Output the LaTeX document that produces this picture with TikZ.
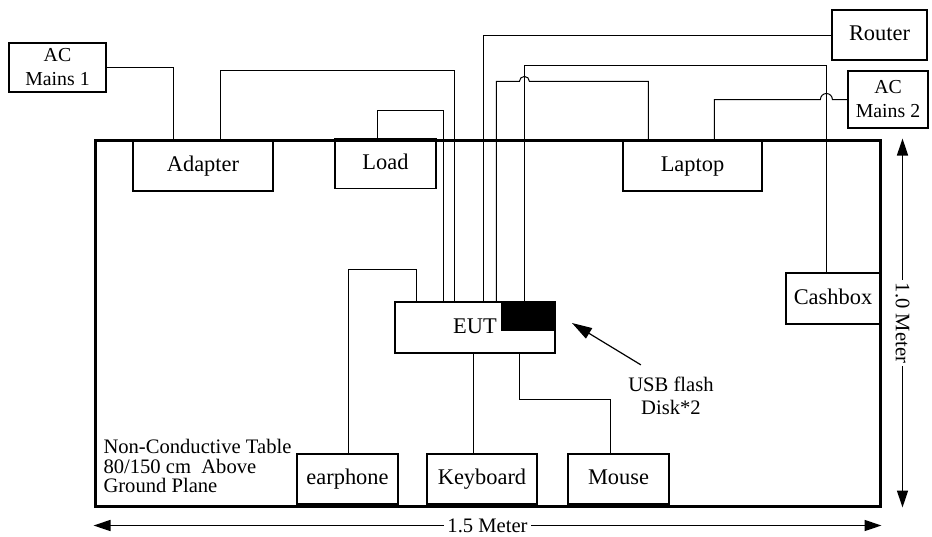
\documentclass[tikz,border=0pt]{standalone}
\usepackage{fontspec}
\setmainfont{Liberation Serif}
\usepackage{tikz}
\usetikzlibrary{positioning, calc, arrows.meta}

\begin{document}
\begin{tikzpicture}[x=0.5pt,y=-0.5pt,line width=0.5pt,
    box/.style={draw,line width=0.6pt,inner sep=0pt,minimum height=25pt,text height=1.6ex,text depth=0.35ex,font=\fontsize{11.2}{12}\selectfont},
    mains/.style={draw,line width=0.6pt,inner sep=0pt,align=center,font=\fontsize{9.9}{12}\selectfont},
    note/.style={inner sep=0pt,font=\fontsize{10.3}{10.3}\selectfont},
    dim/.style={{Triangle[length=8.5pt,width=5.5pt]}-{Triangle[length=8.5pt,width=5.5pt]},line width=0.7pt}]
  \useasboundingbox (0,0) rectangle (932,536);
  \node[draw,line width=1.5pt,minimum width=392.5pt,minimum height=183pt,inner sep=0pt] (table) at (487.5,323) {};%table
  % boxes
  \node[mains,minimum width=48.5pt,minimum height=24.5pt] (ac1) at (57.5,67.5) {AC\\Mains 1};
  \node[mains,minimum width=40pt,minimum height=28.5pt] (ac2) at (888,99.5) {AC\\Mains 2};
  \node[box,minimum width=47.5pt] (router) at (879.5,35) {Router};
  \node[box,minimum width=70pt] (adapter) at (203,166) {Adapter};
  \node[box,minimum width=50.5pt] (load) at (385.5,163.5) {Load};
  \node[box,minimum width=69.5pt] (laptop) at (692.5,166) {Laptop};
  \node[box,minimum width=47pt,minimum height=25.5pt] (cashbox) at (833,298.5) {Cashbox};
  \node[box,minimum width=80pt,minimum height=25.5pt] (eut) at (475,327.5) {EUT};
  \node[fill=black,anchor=north east,minimum width=27pt,minimum height=14.5pt,inner sep=0pt] (usb) at (eut.north east) {};
  \node[box,minimum width=50.5pt] (earphone) at (347.5,479) {earphone};
  \node[box,minimum width=55pt] (keyboard) at (482,479) {Keyboard};
  \node[box,minimum width=50.5pt] (mouse) at (618.5,479) {Mouse};
  % cables
  \draw (ac1.east) -| ($(adapter.north west)+(41,0)$);
  \draw ($(adapter.north west)+(88,0)$) -- ++(0,-70) -| ($(eut.north west)+(60,0)$);
  \draw ($(load.north west)+(43,0)$) -- ++(0,-27) -| ($(eut.north west)+(49,0)$);
  \draw (router.west) -| ($(eut.north west)+(89,0)$);
  \draw ($(cashbox.north west)+(41,0)$) -- ++(0,-207) -| ($(eut.north west)+(130,0)$);
  \draw ($(laptop.north west)+(26,0)$) -- ++(0,-59) -- ++(-119,0) arc[start angle=0,end angle=-180,radius=5] -| ($(eut.north west)+(102,0)$);%jump
  \draw (ac2.west) -- ++(-15,0) arc[start angle=0,end angle=-180,radius=6] -| ($(laptop.north west)+(92,0)$);%jump
  \draw ($(eut.north west)+(22,0)$) -- ++(0,-32) -| ($(earphone.north west)+(52,0)$);
  \draw ($(eut.south west)+(79,0)$) -- ($(keyboard.north west)+(47,0)$);
  \draw ($(eut.south west)+(125,0)$) -- ++(0,46) -| ($(mouse.north west)+(43,0)$);
  % texts
  \node[note,anchor=west,align=left] (tabletxt) at (103,466) {Non-Conductive Table\\[-0.5pt]80/150 cm\ \ Above\\[-0.5pt]Ground Plane};
  \node[note,align=center] (usbtxt) at (671,396) {USB flash\\[1pt]Disk*2};
  \coordinate (usbtip) at (572,323);
  \draw[-{Triangle[length=10pt,width=6pt]},line width=0.6pt] ($(usbtxt.north west)+(13,-12)$) -- (usbtip);
  % dimensions
  \draw[dim] ([yshift=-9pt]table.south west) -- ([yshift=-9pt]table.south east) node[midway,note,fill=white,inner sep=1.5pt]{1.5 Meter};
  \draw[dim] ([xshift=10.5pt]table.north east) -- ([xshift=10.5pt]table.south east) node[midway,sloped,note,fill=white,inner sep=1.5pt]{1.0 Meter};
\end{tikzpicture}
\end{document}
